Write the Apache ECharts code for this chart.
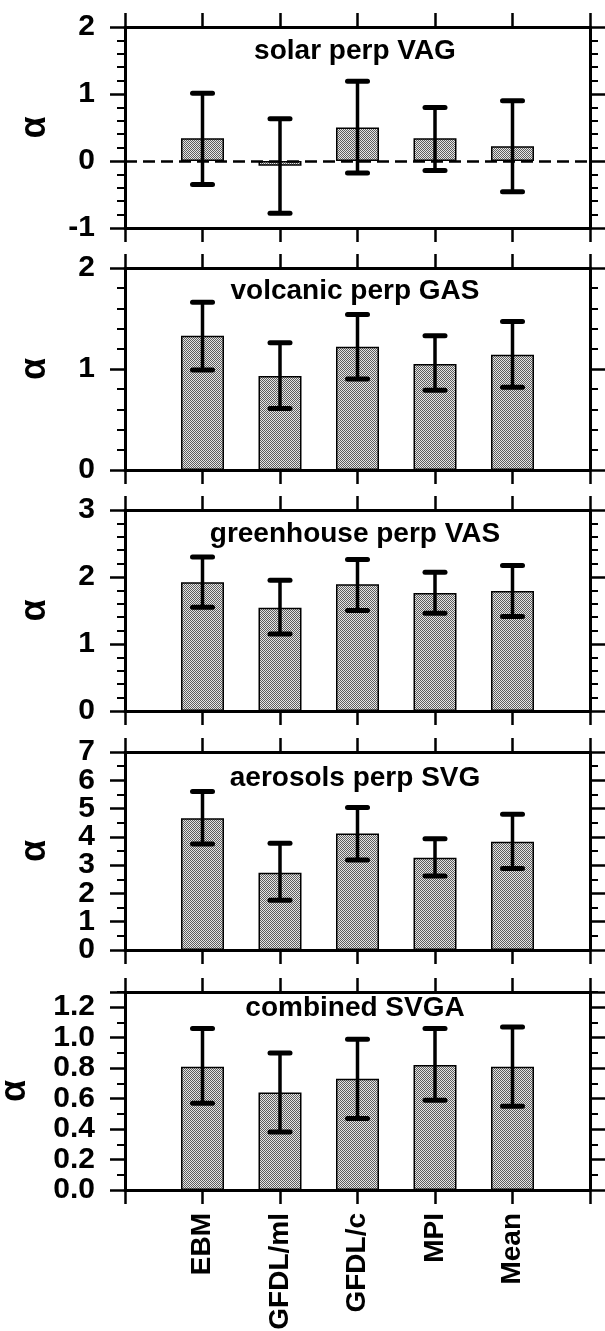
<!DOCTYPE html>
<html>
<head>
<meta charset="utf-8">
<script src="https://cdn.jsdelivr.net/npm/echarts@6/dist/echarts.min.js"></script>
<style>
  html, body { margin: 0; padding: 0; background: #fff; }
  #chart { width: 605px; height: 1331px; }
</style>
</head>
<body>
<div id="chart"></div>
<script>
// models along the x axis
const models = ['EBM', 'GFDL/ml', 'GFDL/c', 'MPI', 'Mean']

const panelTitles = ['solar perp VAG', 'volcanic perp GAS', 'greenhouse perp VAS', 'aerosols perp SVG', 'combined SVGA']

// alpha estimates and their error bar ends, one set per panel
const solarAlpha = [0.34, -0.07, 0.50, 0.34, 0.22]
const solarLow   = [-0.35, -0.78, -0.18, -0.14, -0.46]
const solarHigh  = [1.01, 0.63, 1.19, 0.80, 0.90]

const volcanicAlpha = [1.33, 0.93, 1.22, 1.05, 1.14]
const volcanicLow   = [0.99, 0.61, 0.90, 0.79, 0.82]
const volcanicHigh  = [1.66, 1.26, 1.54, 1.33, 1.47]

const greenhouseAlpha = [1.92, 1.54, 1.89, 1.76, 1.79]
const greenhouseLow   = [1.55, 1.15, 1.50, 1.46, 1.41]
const greenhouseHigh  = [2.30, 1.95, 2.26, 2.07, 2.17]

const aerosolAlpha = [4.66, 2.73, 4.12, 3.26, 3.83]
const aerosolLow   = [3.75, 1.76, 3.18, 2.62, 2.88]
const aerosolHigh  = [5.60, 3.77, 5.04, 3.93, 4.80]

const combinedAlpha = [0.81, 0.64, 0.73, 0.82, 0.81]
const combinedLow   = [0.57, 0.38, 0.47, 0.59, 0.55]
const combinedHigh  = [1.06, 0.90, 0.99, 1.06, 1.07]

// y axis ranges per panel
const yMins = [-1, 0, 0, 0, 0]
const yMaxs = [2, 2, 3, 7, 1.3]
const yIntervals = [1, 1, 1, 1, 0.2]
const yMinorSplits = [5, 5, 5, 2, 2]

const panels = [
    [solarAlpha, solarLow, solarHigh],
    [volcanicAlpha, volcanicLow, volcanicHigh],
    [greenhouseAlpha, greenhouseLow, greenhouseHigh],
    [aerosolAlpha, aerosolLow, aerosolHigh],
    [combinedAlpha, combinedLow, combinedHigh]
]

const gridTops = [27, 268, 510, 752, 992]
const gridHeights = [201, 202, 201, 198, 198]
const titleYs = [51, 291, 534, 778, 1008]

// panels whose tick labels sit so close that echarts would drop some;
// their odd labels go on an overlaid label-only axis
const crowded = [3]

const font = 'Liberation Sans'
const categories = [''].concat(models).concat([' '])

// halftone fill for the bars
const pat = document.createElement('canvas')
pat.width = 2
pat.height = 2
const pctx = pat.getContext('2d')
pctx.fillStyle = '#e6e6e6'
pctx.fillRect(0, 0, 2, 2)
pctx.fillStyle = '#5e5e5e'
pctx.fillRect(0, 0, 1, 1)
pctx.fillRect(1, 1, 1, 1)

const grids = []
const xAxes = []
const yAxes = []
const series = []
const graphics = []

const labelStyle = {
    margin: 30, color: '#000', fontFamily: font, fontWeight: 'bold', fontSize: 30,
    showMinLabel: true, showMaxLabel: true, hideOverlap: false
}

panels.forEach((p, k) => {
    const last = k === panels.length - 1
    const split = crowded.indexOf(k) >= 0
    const fmt = (v, parity) => {
        const idx = Math.round((v - yMins[k]) / yIntervals[k])
        if (parity !== undefined && idx % 2 !== parity) return ''
        if (last) return v > 1.25 ? '' : v.toFixed(1)
        return String(Math.round(v))
    }

    grids.push({
        left: 125, right: 15, top: gridTops[k], height: gridHeights[k],
        containLabel: false, outerBoundsMode: 'none'
    })

    const xBase = {
        type: 'category',
        gridIndex: k,
        data: categories,
        boundaryGap: false,
        axisLine: { onZero: false, lineStyle: { color: '#000', width: 3 } },
        axisTick: { show: true, interval: 0, length: 14, lineStyle: { color: '#000', width: 2.5 } },
        splitLine: { show: false }
    }
    xAxes.push(Object.assign({}, xBase, {
        position: 'bottom',
        axisLabel: {
            show: last, interval: 0, rotate: 90, margin: 23, hideOverlap: false,
            color: '#000', fontFamily: font, fontWeight: 'bold', fontSize: 28
        }
    }))
    xAxes.push(Object.assign({}, xBase, { position: 'top', axisLabel: { show: false } }))

    const yBase = {
        type: 'value',
        gridIndex: k,
        min: yMins[k],
        max: yMaxs[k],
        interval: yIntervals[k],
        axisLine: { show: true, onZero: false, lineStyle: { color: '#000', width: 3 } },
        axisTick: { show: true, length: 15, lineStyle: { color: '#000', width: 2.5 } },
        minorTick: { show: true, splitNumber: yMinorSplits[k], length: 8, lineStyle: { color: '#000', width: 2 } },
        splitLine: { show: false },
        minorSplitLine: { show: false }
    }
    yAxes.push(Object.assign({}, yBase, {
        position: 'left',
        name: 'α',
        nameLocation: 'middle',
        nameRotate: 90,
        nameGap: last ? 92 : 72,
        nameTextStyle: { color: '#000', fontFamily: font, fontSize: 36, fontWeight: 'bold' },
        axisLabel: Object.assign({}, labelStyle, {
            formatter: v => fmt(v, split ? 0 : undefined)
        })
    }))
    yAxes.push(Object.assign({}, yBase, { position: 'right', axisLabel: { show: false } }))

    const [vals, lows, highs] = p
    const bar = {
        type: 'bar',
        xAxisIndex: 2 * k,
        yAxisIndex: 2 * k,
        barWidth: 43,
        data: vals.map((v, i) => [i + 1, v]),
        itemStyle: { color: { image: pat, repeat: 'repeat' }, borderColor: '#000', borderWidth: 1.5 },
        silent: true
    }
    if (k === 0) {
        bar.markLine = {
            silent: true,
            symbol: 'none',
            label: { show: false },
            lineStyle: { color: '#000', width: 2.5, type: [12, 6] },
            data: [{ yAxis: 0 }]
        }
    }
    series.push(bar)

    series.push({
        type: 'custom',
        xAxisIndex: 2 * k,
        yAxisIndex: 2 * k,
        data: models.map((m, i) => [i + 1, lows[i], highs[i]]),
        encode: { x: 0, y: [1, 2] },
        silent: true,
        z: 5,
        renderItem: (params, api) => {
            const x = api.value(0)
            const lo = api.coord([x, api.value(1)])
            const hi = api.coord([x, api.value(2)])
            const half = 10
            const cap = { stroke: '#000', lineWidth: 5, lineCap: 'round' }
            return {
                type: 'group',
                children: [
                    { type: 'line', shape: { x1: lo[0], y1: lo[1], x2: hi[0], y2: hi[1] }, style: { stroke: '#000', lineWidth: 3.5 } },
                    { type: 'line', shape: { x1: lo[0] - half, y1: lo[1], x2: lo[0] + half, y2: lo[1] }, style: cap },
                    { type: 'line', shape: { x1: hi[0] - half, y1: hi[1], x2: hi[0] + half, y2: hi[1] }, style: cap }
                ]
            }
        }
    })

    graphics.push({
        type: 'text',
        x: 355,
        y: titleYs[k],
        z: 10,
        style: {
            text: panelTitles[k],
            textAlign: 'center',
            textVerticalAlign: 'middle',
            fill: '#000',
            font: 'bold 28px "Liberation Sans"'
        }
    })
})

// overlay grids carrying the odd labels of crowded panels
crowded.forEach(k => {
    const g = grids.length
    grids.push({
        left: 125, right: 15, top: gridTops[k], height: gridHeights[k],
        containLabel: false, outerBoundsMode: 'none'
    })
    xAxes.push({ type: 'category', gridIndex: g, data: categories, show: false })
    yAxes.push({
        type: 'value',
        gridIndex: g,
        position: 'left',
        min: yMins[k],
        max: yMaxs[k],
        interval: yIntervals[k],
        axisLine: { show: false },
        axisTick: { show: false },
        splitLine: { show: false },
        axisLabel: Object.assign({}, labelStyle, {
            formatter: v => {
                const idx = Math.round((v - yMins[k]) / yIntervals[k])
                return idx % 2 === 1 ? String(Math.round(v)) : ''
            }
        })
    })
})

const chart = echarts.init(document.getElementById('chart'))
chart.setOption({
    backgroundColor: '#fff',
    animation: false,
    grid: grids,
    xAxis: xAxes,
    yAxis: yAxes,
    series: series,
    graphic: graphics
})
</script>
</body>
</html>
